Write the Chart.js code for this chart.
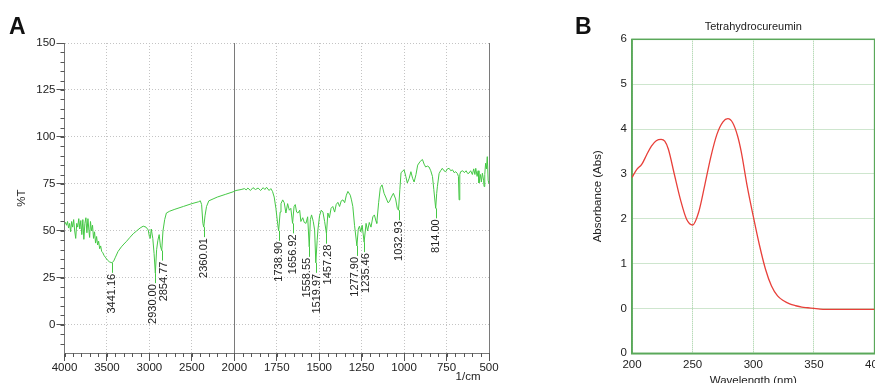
<!DOCTYPE html>
<html>
<head>
<meta charset="utf-8">
<script src="https://cdn.jsdelivr.net/npm/chart.js@4.4.1/dist/chart.umd.min.js"></script>
<style>
  html, body { margin: 0; padding: 0; background: #fff; overflow: hidden; width: 875px; height: 383px; }
  #irWrap { position: absolute; left: 0; top: 0; width: 500px; height: 383px; }
  #uvWrap { position: absolute; left: 585px; top: 0; width: 315px; height: 400px; }
  canvas { display: block; }
  .panel { position: absolute; font: bold 23px 'Liberation Sans', Arial, sans-serif; line-height: 23px; color: #111; }
</style>
</head>
<body>
<div id="irWrap"><canvas id="ir" width="500" height="383"></canvas></div>
<div id="uvWrap"><canvas id="uv" width="315" height="400"></canvas></div>
<div class="panel" style="left:9px;top:15px">A</div>
<div class="panel" style="left:575px;top:15px">B</div>
<script>
/* A: IR spectrum (wavenumber 1/cm, %T) */
const irWn = [4000, 3988, 3976, 3964, 3952, 3940, 3928, 3916, 3904, 3892, 3880, 3868, 3856, 3844, 3832, 3820, 3808, 3796, 3784, 3772, 3760, 3748, 3736, 3724, 3712, 3704, 3694, 3682, 3670, 3658, 3646, 3634, 3622, 3610, 3598, 3586, 3574, 3562, 3550, 3535, 3520, 3495, 3470, 3441.16, 3420, 3400, 3370, 3330, 3300, 3268, 3230, 3190, 3150, 3110, 3073, 3040, 3014, 3000, 2990, 2978, 2960, 2945, 2930, 2915, 2900, 2885, 2870, 2854.77, 2840, 2820, 2800, 2760, 2700, 2600, 2500, 2420, 2400, 2385, 2370, 2360.01, 2345, 2327, 2300, 2250, 2200, 2100, 2014, 1990, 1960, 1940, 1930, 1920, 1905, 1890, 1875, 1860, 1845, 1830, 1820, 1810, 1795, 1785, 1775, 1765, 1755, 1745, 1738.90, 1730, 1725, 1715, 1706, 1696, 1686, 1676, 1667, 1656.92, 1648, 1641, 1633, 1625, 1615, 1608, 1597, 1588, 1578, 1568, 1558.55, 1552, 1545, 1535, 1527, 1519.97, 1512, 1507, 1498, 1488, 1478, 1468, 1457.28, 1449, 1440, 1430, 1420, 1409, 1400, 1390, 1380, 1370, 1360, 1350, 1340, 1331, 1317, 1310, 1302, 1292, 1277.90, 1270, 1263, 1255, 1247, 1235.46, 1224, 1215, 1205, 1195, 1184, 1175, 1165, 1161, 1150, 1140, 1130, 1118, 1106, 1095, 1087, 1075, 1063, 1050, 1040, 1032.93, 1025, 1018, 1000, 990, 981, 970, 960, 950, 941, 930, 920, 905, 892, 882, 873, 863, 853, 843, 833, 825, 814, 808, 804, 794, 785, 775, 765, 755, 745, 735, 725, 715, 705, 696, 686, 680, 676, 672, 667, 655, 645, 635, 625, 618, 608, 598, 590, 583, 578, 570, 564, 559, 550, 545, 539, 532, 529, 525, 520, 515, 510, 505, 500];
const irT = [53.5, 54.5, 53, 55, 51.5, 54, 49.5, 55, 52, 56, 50, 46, 54, 52, 56.5, 51, 55.5, 48, 56, 45.5, 54, 57, 49, 56.5, 50, 46.5, 55, 50, 53, 46, 49.5, 43.5, 47, 42.5, 44.5, 40.5, 42, 39, 38.5, 37, 36, 34.5, 33.5, 33, 34, 36, 39, 41.5, 43, 44.5, 46.5, 48.5, 50, 51.5, 52.5, 52, 50.5, 47, 46, 51, 46, 38, 27.5, 40, 45, 48, 42, 39.5, 50, 56, 59.5, 60.5, 61.5, 63, 64.5, 65.5, 66, 64, 54, 52, 58, 63, 66, 67, 68, 69.5, 70.8, 71.5, 72, 72.5, 71.8, 72.8, 71.5, 73, 72, 72.8, 71.5, 73, 72, 73.2, 71.5, 72.5, 71, 68, 62, 54, 50, 60, 64.5, 66.5, 65, 59.5, 64.5, 61, 62, 54, 63, 64, 60, 59.5, 61, 55, 57, 54.5, 54, 57.5, 41.5, 56, 58.5, 55, 50.5, 33, 45, 51, 58, 61, 60, 55, 48.5, 59.5, 57, 62, 63, 60, 64, 65.2, 63, 66, 66.5, 65, 69, 71, 69, 66.5, 63, 53, 42, 51, 52.5, 49.5, 53, 44, 54, 50, 54.5, 52, 57.5, 58.5, 55, 54, 65, 73, 74.5, 70, 67.5, 65, 65.5, 68, 70, 67, 62, 61, 72, 81, 82.5, 79, 75.5, 78, 81.5, 78, 76, 80, 85, 87, 88, 85.5, 84, 84.5, 84, 82, 79, 72, 62, 70, 73.5, 80.5, 82, 83.3, 82, 81.5, 83, 83.3, 82, 82.5, 81, 81.5, 80.5, 79, 66.5, 80, 81.5, 82, 81, 82, 80.5, 80.7, 82, 80, 83, 80, 83.3, 79, 82, 75.5, 80, 76, 80.7, 77, 73.6, 80, 86, 83, 89.5, 77, 75];
const irTicks = [4000, 3500, 3000, 2500, 2000, 1750, 1500, 1250, 1000, 750, 500];
const irYTicks = [0, 25, 50, 75, 100, 125, 150];
const peakWn = [3441.16, 2930.00, 2854.77, 2360.01, 1738.90, 1656.92, 1558.55, 1519.97, 1457.28, 1277.90, 1235.46, 1032.93, 814.00];

/* B: UV spectrum */
const uvNm = [200, 204, 208, 212, 216, 220, 224, 227, 230, 235, 240, 245, 250, 255, 260, 265, 270, 275, 279, 283, 287, 290, 295, 300, 305, 310, 315, 320, 325, 330, 335, 340, 345, 350, 355, 360, 380, 400];
const uvAbs = [2.92, 3.10, 3.21, 3.42, 3.62, 3.74, 3.77, 3.73, 3.55, 2.98, 2.42, 1.99, 1.86, 2.15, 2.75, 3.38, 3.88, 4.16, 4.23, 4.14, 3.85, 3.5, 2.72, 2.05, 1.42, 0.88, 0.5, 0.28, 0.17, 0.1, 0.06, 0.03, 0.015, 0.0, -0.015, -0.02, -0.02, -0.02];
const uvYTicks = [-1, 0, 1, 2, 3, 4, 5, 6];
const uvYTickLabels = ['0', '0', '1', '2', '3', '4', '5', '6'];

const irColor = '#45c845';
const uvColor = '#e8403a';
Chart.defaults.font.family = "'Liberation Sans', Arial, sans-serif";
Chart.defaults.font.size = 11.5;
Chart.defaults.color = '#333';

// IR axis: 4000-2000 at half the scale of 2000-500
class IrScale extends Chart.LinearScale {
  buildTicks() {
    return irTicks.map(v => ({value: v}));
  }
  getPixelForValue(v) {
    if (v === null || v === undefined) return NaN;
    const d = v >= 2000 ? (4000 - v) / 5000 : 0.4 + (2000 - v) / 2500;
    return this.getPixelForDecimal(d);
  }
  getValueForPixel(p) {
    const d = this.getDecimalForPixel(p);
    return d <= 0.4 ? 4000 - d * 5000 : 2000 - (d - 0.4) * 2500;
  }
}
IrScale.id = 'ir';
Chart.register(IrScale);

const irExtras = {
  id: 'irExtras',
  beforeDatasetsDraw(chart) {
    const {ctx, chartArea: a, scales: {x, y}} = chart;
    ctx.save();
    ctx.lineWidth = 1;
    ctx.strokeStyle = '#7a7a7a';
    [2000, 500].forEach(w => {
      const px = Math.round(x.getPixelForValue(w)) + 0.5;
      ctx.beginPath(); ctx.moveTo(px, a.top); ctx.lineTo(px, a.bottom); ctx.stroke();
    });
    // minor ticks
    ctx.strokeStyle = '#555';
    for (let w = 4000; w >= 500; w -= (w > 2000 ? 100 : 50)) {
      const px = Math.round(x.getPixelForValue(w)) + 0.5;
      ctx.beginPath(); ctx.moveTo(px, a.bottom); ctx.lineTo(px, a.bottom + 4); ctx.stroke();
    }
    for (let v = -10; v <= 150; v += 5) {
      const py = Math.round(y.getPixelForValue(v)) + 0.5;
      ctx.beginPath(); ctx.moveTo(a.left - 4, py); ctx.lineTo(a.left, py); ctx.stroke();
    }
    ctx.restore();
  },
  afterDatasetsDraw(chart) {
    const {ctx, scales: {x, y}} = chart;
    ctx.save();
    ctx.font = "11px 'Liberation Sans', Arial, sans-serif";
    ctx.fillStyle = '#222';
    ctx.textAlign = 'right';
    ctx.textBaseline = 'middle';
    // spread close labels apart so they stay readable
    const xs = peakWn.map(w => x.getPixelForValue(w));
    const lx = xs.slice();
    for (let k = 0; k < 6; k++) {
      for (let i = 1; i < lx.length; i++) {
        const gap = lx[i] - lx[i - 1];
        if (gap < 10.5) { const s = (10.5 - gap) / 2; lx[i - 1] -= s; lx[i] += s; }
      }
    }
    peakWn.forEach((w, i) => {
      const px = Math.round(xs[i]) + 0.5;
      const py = y.getPixelForValue(irT[irWn.indexOf(w)]);
      ctx.strokeStyle = irColor;
      ctx.lineWidth = 1;
      ctx.beginPath(); ctx.moveTo(px, py); ctx.lineTo(px, py + 10); ctx.stroke();
      ctx.save();
      ctx.translate(lx[i], py + 11);
      ctx.rotate(-Math.PI / 2);
      ctx.fillText(w.toFixed(2), 0, 0);
      ctx.restore();
    });
    ctx.textAlign = 'center';
    ctx.font = "11.5px 'Liberation Sans', Arial, sans-serif";
    ctx.fillText('1/cm', 468, 377);
    ctx.restore();
  }
};

new Chart(document.getElementById('ir').getContext('2d'), {
  type: 'line',
  data: {
    datasets: [{
      data: irWn.map((w, i) => ({x: w, y: irT[i]})),
      borderColor: irColor,
      borderWidth: 1,
      pointRadius: 0,
      tension: 0
    }]
  },
  options: {
    responsive: false,
    animation: false,
    layout: {padding: {left: 0, top: 43, right: 11, bottom: 0}},
    plugins: {legend: {display: false}, tooltip: {enabled: false}},
    scales: {
      x: {
        type: 'ir',
        min: 500,
        max: 4000,
        afterFit: s => { s.height = 30; },
        ticks: {autoSkip: false, maxRotation: 0, padding: 0, color: '#222', callback: v => String(v)},
        grid: {color: '#c4c4c4', tickColor: '#555', tickLength: 8},
        border: {color: '#777', dash: [1, 2]}
      },
      y: {
        min: -15,
        max: 150,
        afterBuildTicks: s => { s.ticks = irYTicks.map(v => ({value: v})); },
        afterFit: s => { s.width = 64.5; },
        ticks: {padding: 1, color: '#222'},
        grid: {color: '#c4c4c4', tickColor: '#555', tickLength: 8},
        border: {color: '#777', dash: [1, 2]},
        title: {display: true, text: '%T', color: '#222', padding: {top: 15, bottom: 0}}
      }
    }
  },
  plugins: [irExtras]
});

const uvFrame = {
  id: 'uvFrame',
  beforeDatasetsDraw(chart) {
    const {ctx, chartArea: a} = chart;
    ctx.save();
    ctx.strokeStyle = '#5aa85a';
    ctx.lineWidth = 1.5;
    ctx.strokeRect(a.left, a.top, a.right - a.left, a.bottom - a.top);
    ctx.restore();
  }
};

new Chart(document.getElementById('uv').getContext('2d'), {
  type: 'line',
  data: {
    datasets: [{
      data: uvNm.map((n, i) => ({x: n, y: uvAbs[i]})),
      borderColor: uvColor,
      borderWidth: 1.3,
      pointRadius: 0,
      cubicInterpolationMode: 'monotone'
    }]
  },
  options: {
    responsive: false,
    animation: false,
    layout: {padding: {left: 0, top: 0, right: 25.4, bottom: 6.7}},
    plugins: {
      legend: {display: false},
      tooltip: {enabled: false},
      title: {display: true, text: 'Tetrahydrocureumin', fullSize: false, color: '#222',
        font: {size: 11, weight: 'normal'}, padding: {top: 20.4, bottom: 5.7}}
    },
    scales: {
      x: {
        type: 'linear',
        min: 200,
        max: 400,
        afterFit: s => { s.height = 40; },
        ticks: {stepSize: 50, autoSkip: false, maxRotation: 0, padding: 5, color: '#222'},
        grid: {color: '#9ccc9c', drawTicks: false},
        border: {color: '#5aa85a', width: 1.5, dash: [1, 1]},
        title: {display: true, text: 'Wavelength (nm)', color: '#222', padding: {top: 0, bottom: 5.4}}
      },
      y: {
        min: -1,
        max: 6,
        afterBuildTicks: s => { s.ticks = uvYTicks.map(v => ({value: v})); },
        afterFit: s => { s.width = 47; },
        ticks: {padding: 5, color: '#222', callback: v => uvYTickLabels[uvYTicks.indexOf(v)]},
        grid: {color: '#9ccc9c', drawTicks: false},
        border: {color: '#5aa85a', width: 1.5, dash: [1, 1]},
        title: {display: true, text: 'Absorbance (Abs)', color: '#222', padding: {top: 6, bottom: 0}}
      }
    }
  },
  plugins: [uvFrame]
});
</script>
</body>
</html>
